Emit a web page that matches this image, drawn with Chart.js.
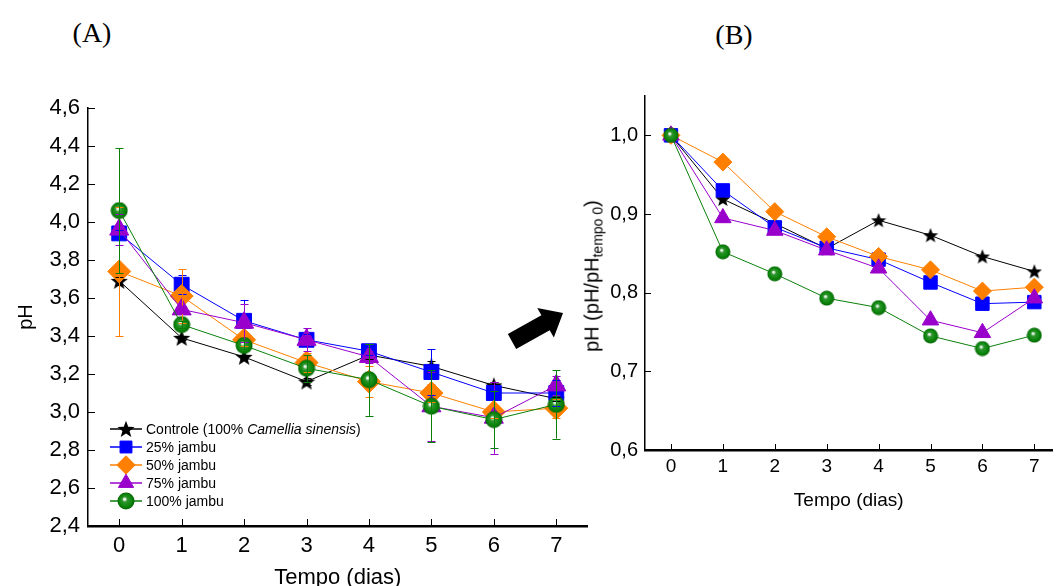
<!DOCTYPE html>
<html lang="pt-BR">
<head>
<meta charset="utf-8">
<title>pH - chá de jambu</title>
<script src="https://cdn.jsdelivr.net/npm/chart.js@4.4.1/dist/chart.umd.min.js"></script>
<style>
    html, body { margin: 0; padding: 0; background: #fff; }
    body { width: 1063px; height: 586px; overflow: hidden; position: relative; font-family: 'Liberation Sans', Arial, sans-serif; }
    canvas { position: absolute; top: 0; }
    #grafico-ph { left: 0; }
    #grafico-razao { left: 600px; }
    .painel { position: absolute; font-family: 'Liberation Serif', 'Times New Roman', serif; font-size: 28px; color: #000; transform: translate(-50%, -50%); }
    #titulo-razao {
        position: absolute; left: 593px; top: 276px; font-size: 20px; color: #000; white-space: nowrap;
        transform: translate(-50%, -50%) rotate(-90deg);
    }
    #titulo-razao sub { font-size: 14px; vertical-align: -4px; }
</style>
</head>
<body>
<div class="painel" style="left:92px; top:33px;">(A)</div>
<div class="painel" style="left:734px; top:35px;">(B)</div>
<canvas id="grafico-ph" width="600" height="600"></canvas>
<canvas id="grafico-razao" width="463" height="520"></canvas>
<div id="titulo-razao">pH (pH/pH<sub>tempo 0</sub>)</div>

<script>
/* ==========================================
   pH ao longo do armazenamento - (A) e (B)
   ========================================== */

const dias = [0, 1, 2, 3, 4, 5, 6, 7];
const phTicks = [2.4, 2.6, 2.8, 3.0, 3.2, 3.4, 3.6, 3.8, 4.0, 4.2, 4.4, 4.6];
const razaoTicks = [0.6, 0.7, 0.8, 0.9, 1.0];

const nomes = ['Controle (100% Camellia sinensis)', '25% jambu', '50% jambu', '75% jambu', '100% jambu'];

// (A) pH médio e desvio
const phControle = [3.69, 3.39, 3.29, 3.16, 3.30, 3.24, 3.14, 3.07];
const phJambu25 = [3.94, 3.67, 3.48, 3.38, 3.32, 3.21, 3.10, 3.10];
const phJambu50 = [3.74, 3.61, 3.38, 3.26, 3.16, 3.10, 3.00, 3.02];
const phJambu75 = [3.96, 3.54, 3.47, 3.38, 3.29, 3.03, 2.97, 3.14];
const phJambu100 = [4.06, 3.46, 3.35, 3.23, 3.17, 3.03, 2.96, 3.04];

const dpControle = [0.02, 0.01, 0.01, 0.02, 0.02, 0.03, 0.02, 0.01];
const dpJambu25 = [0.02, 0.05, 0.11, 0.03, 0.02, 0.12, 0.02, 0.07];
const dpJambu50 = [0.34, 0.14, 0.03, 0.05, 0.08, 0.05, 0.03, 0.05];
const dpJambu75 = [0.08, 0.02, 0.10, 0.06, 0.03, 0.18, 0.19, 0.05];
const dpJambu100 = [0.33, 0.02, 0.03, 0.07, 0.19, 0.19, 0.15, 0.18];

// (B) pH relativo ao tempo 0
const razaoControle = [1.0, 0.919, 0.888, 0.856, 0.892, 0.873, 0.846, 0.827];
const razaoJambu25 = [1.0, 0.930, 0.883, 0.857, 0.842, 0.813, 0.786, 0.788];
const razaoJambu50 = [1.0, 0.966, 0.903, 0.871, 0.846, 0.829, 0.802, 0.807];
const razaoJambu75 = [1.0, 0.895, 0.879, 0.854, 0.831, 0.765, 0.749, 0.793];
const razaoJambu100 = [1.0, 0.852, 0.824, 0.793, 0.781, 0.745, 0.729, 0.746];

const cores = ['#000000', '#0000ff', '#ff8000', '#9900cc', '#0a800a'];

Chart.defaults.font.family = "'Liberation Sans', Arial, sans-serif";
Chart.defaults.color = '#000';

// Marcadores desenhados à mão: estrela cheia e esfera com brilho
function estrela(tam) {
    const c = document.createElement('canvas');
    c.width = c.height = tam;
    const ctx = c.getContext('2d');
    const R = tam / 2, r = R * 0.42, cx = tam / 2, cy = tam / 2 + R * 0.08;
    ctx.beginPath();
    for (let i = 0; i < 10; i++) {
        const raio = i % 2 === 0 ? R : r;
        const ang = -Math.PI / 2 + i * Math.PI / 5;
        ctx.lineTo(cx + raio * Math.cos(ang), cy + raio * Math.sin(ang));
    }
    ctx.closePath();
    ctx.fillStyle = '#000';
    ctx.fill();
    return c;
}

function esfera(tam) {
    const c = document.createElement('canvas');
    c.width = c.height = tam;
    const ctx = c.getContext('2d');
    const r = tam / 2 - 0.5, cx = tam / 2, cy = tam / 2;
    const g = ctx.createRadialGradient(cx - r * 0.2, cy - r * 0.25, 0, cx, cy, r);
    g.addColorStop(0, '#ffffff');
    g.addColorStop(0.14, '#d8ecd8');
    g.addColorStop(0.3, '#2f962f');
    g.addColorStop(0.75, '#0a840a');
    g.addColorStop(1, '#046404');
    ctx.beginPath();
    ctx.arc(cx, cy, r, 0, Math.PI * 2);
    ctx.fillStyle = g;
    ctx.fill();
    return c;
}

function pontos(valores) {
    return dias.map((d, i) => ({ x: d, y: valores[i] }));
}

function virgula(v) {
    return v.toFixed(1).replace('.', ',');
}

// Estilo de cada série; tamanhos diferentes para cada painel
function estilos(grande) {
    return [
        { pointStyle: estrela(grande ? 18 : 16), pointRadius: 8 },
        { pointStyle: 'rect', pointRadius: grande ? 10.5 : 9.5 },
        { pointStyle: 'rectRot', pointRadius: grande ? 11.5 : 9 },
        { pointStyle: 'triangle', pointRadius: grande ? 11 : 9.5 },
        { pointStyle: esfera(grande ? 18 : 16), pointRadius: 8 }
    ];
}

function montarSeries(listas, erros, grande) {
    const est = estilos(grande);
    return listas.map((valores, i) => ({
        label: nomes[i],
        data: pontos(valores),
        erros: erros ? erros[i] : null,
        borderColor: cores[i],
        backgroundColor: cores[i],
        pointBackgroundColor: cores[i],
        pointBorderColor: cores[i],
        pointBorderWidth: 1,
        borderWidth: 1,
        tension: 0,
        pointStyle: est[i].pointStyle,
        pointRadius: est[i].pointRadius,
        order: 5 - i
    }));
}

// Marcas de escala voltadas para dentro
const ticksInternos = {
    id: 'ticksInternos',
    afterDraw(chart, args, opts) {
        const { ctx, chartArea, scales: { x, y } } = chart;
        ctx.save();
        ctx.strokeStyle = '#000';
        ctx.lineWidth = 1;
        x.ticks.forEach(t => {
            const px = Math.round(x.getPixelForValue(t.value)) + 0.5;
            ctx.beginPath();
            ctx.moveTo(px, chartArea.bottom);
            ctx.lineTo(px, chartArea.bottom - opts.len);
            ctx.stroke();
        });
        y.ticks.forEach(t => {
            const py = Math.round(y.getPixelForValue(t.value)) + 0.5;
            ctx.beginPath();
            ctx.moveTo(chartArea.left, py);
            ctx.lineTo(chartArea.left + opts.len, py);
            ctx.stroke();
        });
        ctx.restore();
    }
};

// Barras de desvio padrão
const barrasErro = {
    id: 'barrasErro',
    afterDatasetsDraw(chart) {
        const { ctx, scales: { y } } = chart;
        ctx.save();
        ctx.lineWidth = 1;
        chart.data.datasets.forEach((ds, i) => {
            if (!ds.erros) return;
            const meta = chart.getDatasetMeta(i);
            ctx.strokeStyle = ds.borderColor;
            meta.data.forEach((p, j) => {
                const v = ds.data[j].y, e = ds.erros[j];
                const x = Math.round(p.x) + 0.5;
                const y1 = y.getPixelForValue(v + e), y2 = y.getPixelForValue(v - e);
                ctx.beginPath();
                ctx.moveTo(x, y1); ctx.lineTo(x, y2);
                ctx.moveTo(x - 4, Math.round(y1) + 0.5); ctx.lineTo(x + 4, Math.round(y1) + 0.5);
                ctx.moveTo(x - 4, Math.round(y2) + 0.5); ctx.lineTo(x + 4, Math.round(y2) + 0.5);
                ctx.stroke();
            });
        });
        ctx.restore();
    }
};

// Legenda com nome científico em itálico, e a seta que liga os painéis
const legendaSeta = {
    id: 'legendaSeta',
    afterDraw(chart) {
        const ctx = chart.ctx;
        ctx.save();
        chart.data.datasets.forEach((ds, i) => {
            const yl = 429 + i * 18;
            ctx.strokeStyle = ds.borderColor;
            ctx.fillStyle = ds.borderColor;
            ctx.lineWidth = 1.5;
            ctx.beginPath();
            ctx.moveTo(110, yl); ctx.lineTo(142, yl);
            ctx.stroke();
            ctx.lineWidth = 1;
            Chart.helpers.drawPoint(ctx, {
                pointStyle: ds.pointStyle, radius: ds.pointRadius * 0.8, rotation: 0, borderWidth: 1
            }, 126, yl);
            ctx.fillStyle = '#000';
            ctx.textBaseline = 'middle';
            let xt = 146;
            ds.label.split(/(Camellia sinensis)/).forEach(parte => {
                if (!parte) return;
                ctx.font = (parte === 'Camellia sinensis' ? 'italic ' : '') + "14px 'Liberation Sans', Arial, sans-serif";
                ctx.fillText(parte, xt, yl + 1);
                xt += ctx.measureText(parte).width;
            });
        });

        // seta
        const tail = [512, 341.5], tip = [563, 313];
        const dx = tip[0] - tail[0], dy = tip[1] - tail[1];
        const len = Math.hypot(dx, dy), ux = dx / len, uy = dy / len, nx = -uy, ny = ux;
        const cab = 20, meia = 8.5, abas = 17;
        const bx = tip[0] - ux * cab, by = tip[1] - uy * cab;
        ctx.fillStyle = '#000';
        ctx.beginPath();
        ctx.moveTo(tail[0] + nx * meia, tail[1] + ny * meia);
        ctx.lineTo(bx + nx * meia, by + ny * meia);
        ctx.lineTo(bx + nx * abas, by + ny * abas);
        ctx.lineTo(tip[0], tip[1]);
        ctx.lineTo(bx - nx * abas, by - ny * abas);
        ctx.lineTo(bx - nx * meia, by - ny * meia);
        ctx.lineTo(tail[0] - nx * meia, tail[1] - ny * meia);
        ctx.closePath();
        ctx.fill();
        ctx.restore();
    }
};

const semGrade = { display: false, drawTicks: false };

// (A) pH
new Chart(document.getElementById('grafico-ph'), {
    type: 'line',
    data: {
        datasets: montarSeries(
            [phControle, phJambu25, phJambu50, phJambu75, phJambu100],
            [dpControle, dpJambu25, dpJambu50, dpJambu75, dpJambu100],
            true
        )
    },
    options: {
        responsive: false,
        animation: false,
        devicePixelRatio: 1,
        layout: { padding: { top: 108, right: 9, left: 0, bottom: 0 } },
        plugins: {
            legend: { display: false },
            tooltip: { enabled: false },
            ticksInternos: { len: 7 }
        },
        scales: {
            x: {
                type: 'linear', min: -0.5, max: 7.5,
                afterBuildTicks: s => { s.ticks = dias.map(v => ({ value: v })); },
                afterFit: s => { s.height = 74; },
                grid: semGrade,
                border: { display: true, color: '#000', width: 2.5 },
                ticks: { font: { size: 22 }, padding: 7, callback: v => String(v) },
                title: { display: true, text: 'Tempo (dias)', font: { size: 22 }, padding: { top: 0, bottom: 9 } }
            },
            y: {
                min: 2.4, max: 4.6,
                afterBuildTicks: s => { s.ticks = phTicks.map(v => ({ value: v })); },
                afterFit: s => { s.width = 88; },
                grid: semGrade,
                border: { display: true, color: '#000', width: 1.5 },
                ticks: { font: { size: 22 }, padding: 8, callback: v => virgula(v) },
                title: { display: true, text: 'pH', font: { size: 20 }, padding: { top: 14, bottom: 0 } }
            }
        }
    },
    plugins: [ticksInternos, barrasErro, legendaSeta]
});

// (B) pH / pH tempo 0
new Chart(document.getElementById('grafico-razao'), {
    type: 'line',
    data: {
        datasets: montarSeries(
            [razaoControle, razaoJambu25, razaoJambu50, razaoJambu75, razaoJambu100],
            null,
            false
        )
    },
    options: {
        responsive: false,
        animation: false,
        devicePixelRatio: 1,
        layout: { padding: { top: 96, right: 0, left: 0, bottom: 0 } },
        plugins: {
            legend: { display: false },
            tooltip: { enabled: false },
            ticksInternos: { len: 6 }
        },
        scales: {
            x: {
                type: 'linear', min: -0.5, max: 7.35,
                afterBuildTicks: s => { s.ticks = dias.map(v => ({ value: v })); },
                afterFit: s => { s.height = 70; },
                grid: semGrade,
                border: { display: true, color: '#000', width: 2.5 },
                ticks: { font: { size: 19 }, padding: 5, callback: v => String(v) },
                title: { display: true, text: 'Tempo (dias)', font: { size: 19 }, padding: { top: 0, bottom: 8 } }
            },
            y: {
                min: 0.6, max: 1.05,
                afterBuildTicks: s => { s.ticks = razaoTicks.map(v => ({ value: v })); },
                afterFit: s => { s.width = 45; },
                grid: semGrade,
                border: { display: true, color: '#000', width: 1.5 },
                ticks: { font: { size: 20 }, padding: 7, callback: v => virgula(v) }
            }
        }
    },
    plugins: [ticksInternos]
});
</script>
</body>
</html>
